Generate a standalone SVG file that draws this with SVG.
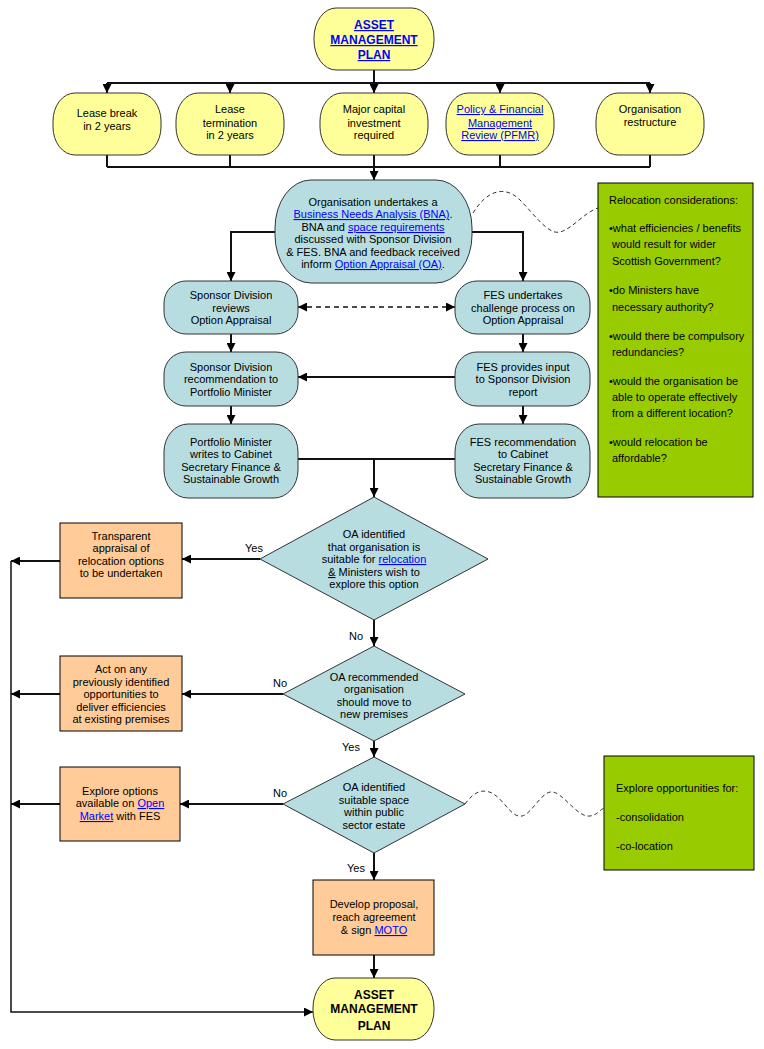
<svg xmlns="http://www.w3.org/2000/svg" width="764" height="1049" viewBox="0 0 764 1049">
<defs>
<style>
.t{font-family:"Liberation Sans",Arial,sans-serif;font-size:11px;fill:#000;text-anchor:middle}
.s{text-anchor:start}
.b{font-weight:bold;font-size:12px}
.l{fill:#0000ff;text-decoration:underline}
.u{text-decoration:underline}
.yel{fill:#ffff99;stroke:#333;stroke-width:1}
.blu{fill:#b7dde0;stroke:#333;stroke-width:1}
.org{fill:#ffcc99;stroke:#000;stroke-width:1}
.grn{fill:#99cc00;stroke:#000;stroke-width:1}
.c{fill:none;stroke:#111;stroke-width:2}
.a{marker-end:url(#ah)}
.d{fill:none;stroke:#111;stroke-width:1.5;stroke-dasharray:5 4}
.w{fill:none;stroke:#333;stroke-width:1;stroke-dasharray:4 3}
</style>
<marker id="ah" viewBox="0 0 10 10" refX="10" refY="5" markerWidth="9" markerHeight="9" markerUnits="userSpaceOnUse" orient="auto-start-reverse">
<path d="M0,0 L10,5 L0,10 z" fill="#000"/>
</marker>
</defs>
<rect width="764" height="1049" fill="#fff"/>

<g id="connectors">
<path class="c" d="M374,70 V83 M107,83 H650"/>
<path class="c a" d="M107,83 V93"/>
<path class="c a" d="M230,83 V93"/>
<path class="c a" d="M374,83 V93"/>
<path class="c a" d="M500,83 V93"/>
<path class="c a" d="M650,83 V93"/>
<path class="c" d="M107,155 V167 M230,155 V167 M374,155 V167 M500,155 V167 M650,155 V167 M107,167 H650"/>
<path class="c a" d="M374,167 V180"/>
<path class="c a" d="M276,232 H231 V281"/>
<path class="c a" d="M471,232 H523 V281"/>
<path class="d a" style="marker-start:url(#ah)" d="M298,307 H455"/>
<path class="c a" d="M231,334 V352"/>
<path class="c a" d="M523,334 V352"/>
<path class="c a" d="M455,377 H298"/>
<path class="c a" d="M231,406 V424"/>
<path class="c a" d="M523,406 V424"/>
<path class="c" d="M298,459 H455"/>
<path class="c a" d="M374,459 V497"/>
<path class="c a" d="M260,559 H182"/>
<path class="c a" d="M60,561 H11"/>
<path class="c a" d="M374,620 V646"/>
<path class="c a" d="M283,694 H182"/>
<path class="c a" d="M60,694 H11"/>
<path class="c a" d="M374,741 V757"/>
<path class="c a" d="M283,804 H180"/>
<path class="c a" d="M60,804 H11"/>
<path class="c a" d="M374,853 V880"/>
<path class="c a" d="M374,955 V978"/>
<path class="c a" style="stroke-width:1.5" d="M11,561 V1012 H313"/>
<path class="w" d="M473,213 C487,190 505,185 520,200 C535,215 548,235 560,232 C572,229 585,212 598,208"/>
<path class="w" d="M465,804 C475,790 485,788 495,795 C505,802 512,818 522,816 C532,814 542,790 553,792 C564,794 578,818 590,816 C597,815 600,810 604,808"/>
<text class="t" x="254" y="552">Yes</text>
<text class="t" x="356" y="640">No</text>
<text class="t" x="280" y="687">No</text>
<text class="t" x="351" y="751">Yes</text>
<text class="t" x="280" y="797">No</text>
<text class="t" x="356" y="872">Yes</text>
</g>

<g id="amp-top">
<rect class="yel" x="314" y="8" width="120" height="62" rx="22" ry="30"/>
<text class="t b" x="374" y="29"><tspan class="l">ASSET</tspan></text>
<text class="t b" x="374" y="44"><tspan class="l">MANAGEMENT</tspan></text>
<text class="t b" x="374" y="59"><tspan class="l">PLAN</tspan></text>
</g>

<g id="lease-break">
<rect class="yel" x="53" y="93" width="108" height="62" rx="22" ry="28"/>
<text class="t" x="107" y="117">Lease break</text>
<text class="t" x="107" y="130">in 2 years</text>
</g>
<g id="lease-termination">
<rect class="yel" x="176" y="93" width="108" height="62" rx="22" ry="28"/>
<text class="t" x="230" y="113">Lease</text>
<text class="t" x="230" y="127">termination</text>
<text class="t" x="230" y="139">in 2 years</text>
</g>
<g id="major-capital">
<rect class="yel" x="320" y="93" width="108" height="62" rx="22" ry="28"/>
<text class="t" x="374" y="113">Major capital</text>
<text class="t" x="374" y="127">investment</text>
<text class="t" x="374" y="139">required</text>
</g>
<g id="pfmr">
<rect class="yel" x="446" y="93" width="108" height="62" rx="22" ry="28"/>
<text class="t" x="500" y="113"><tspan class="l">Policy &amp; Financial</tspan></text>
<text class="t" x="500" y="127"><tspan class="l">Management</tspan></text>
<text class="t" x="500" y="139"><tspan class="l">Review (PFMR)</tspan></text>
</g>
<g id="restructure">
<rect class="yel" x="596" y="93" width="108" height="62" rx="22" ry="28"/>
<text class="t" x="650" y="113">Organisation</text>
<text class="t" x="650" y="126">restructure</text>
</g>

<g id="bna">
<rect class="blu" x="275" y="180" width="197" height="103" rx="36" ry="48"/>
<text class="t" x="373" y="206">Organisation undertakes a</text>
<text class="t" x="373" y="218"><tspan class="l">Business Needs Analysis (BNA)</tspan>.</text>
<text class="t" x="373" y="231">BNA and <tspan class="l">space requirements</tspan></text>
<text class="t" x="373" y="243">discussed with Sponsor Division</text>
<text class="t" x="373" y="256">&amp; FES. BNA and feedback received</text>
<text class="t" x="373" y="268">inform <tspan class="l">Option Appraisal (OA)</tspan>.</text>
</g>

<g id="sd-reviews">
<rect class="blu" x="164" y="281" width="134" height="53" rx="22" ry="22"/>
<text class="t" x="231" y="299">Sponsor Division</text>
<text class="t" x="231" y="312">reviews</text>
<text class="t" x="231" y="324">Option Appraisal</text>
</g>
<g id="fes-challenge">
<rect class="blu" x="455" y="281" width="135" height="53" rx="22" ry="22"/>
<text class="t" x="523" y="299">FES undertakes</text>
<text class="t" x="523" y="312">challenge process on</text>
<text class="t" x="523" y="324">Option Appraisal</text>
</g>
<g id="sd-recommendation">
<rect class="blu" x="164" y="352" width="134" height="54" rx="22" ry="22"/>
<text class="t" x="231" y="371">Sponsor Division</text>
<text class="t" x="231" y="383">recommendation to</text>
<text class="t" x="231" y="396">Portfolio Minister</text>
</g>
<g id="fes-input">
<rect class="blu" x="455" y="352" width="135" height="54" rx="22" ry="22"/>
<text class="t" x="523" y="371">FES provides input</text>
<text class="t" x="523" y="383">to Sponsor Division</text>
<text class="t" x="523" y="396">report</text>
</g>
<g id="pm-writes">
<rect class="blu" x="164" y="424" width="134" height="74" rx="24" ry="28"/>
<text class="t" x="231" y="446">Portfolio Minister</text>
<text class="t" x="231" y="458">writes to Cabinet</text>
<text class="t" x="231" y="471">Secretary Finance &amp;</text>
<text class="t" x="231" y="483">Sustainable Growth</text>
</g>
<g id="fes-recommendation">
<rect class="blu" x="455" y="424" width="135" height="74" rx="24" ry="28"/>
<text class="t" x="523" y="446">FES recommendation</text>
<text class="t" x="523" y="458">to Cabinet</text>
<text class="t" x="523" y="471">Secretary Finance &amp;</text>
<text class="t" x="523" y="483">Sustainable Growth</text>
</g>

<g id="relocation-considerations">
<rect class="grn" x="598" y="183" width="155" height="314"/>
<text class="t s" x="609" y="204">Relocation considerations:</text>
<text class="t s" x="609" y="232">•what efficiencies / benefits</text>
<text class="t s" x="612" y="248">would result for wider</text>
<text class="t s" x="612" y="265">Scottish Government?</text>
<text class="t s" x="609" y="294">•do Ministers have</text>
<text class="t s" x="612" y="311">necessary authority?</text>
<text class="t s" x="609" y="340">•would there be compulsory</text>
<text class="t s" x="612" y="356">redundancies?</text>
<text class="t s" x="609" y="385">•would the organisation be</text>
<text class="t s" x="612" y="401">able to operate effectively</text>
<text class="t s" x="612" y="417">from a different location?</text>
<text class="t s" x="609" y="446">•would relocation be</text>
<text class="t s" x="612" y="462">affordable?</text>
</g>

<g id="decision-relocation">
<polygon class="blu" points="374,497 488,559 374,620 260,559"/>
<text class="t" x="374" y="538">OA identified</text>
<text class="t" x="374" y="551">that organisation is</text>
<text class="t" x="374" y="563">suitable for <tspan class="l">relocation</tspan></text>
<text class="t" x="374" y="576"><tspan class="u">&amp;</tspan> Ministers wish to</text>
<text class="t" x="374" y="588">explore this option</text>
</g>
<g id="transparent-appraisal">
<rect class="org" x="60" y="523" width="122" height="75"/>
<text class="t" x="121" y="540">Transparent</text>
<text class="t" x="121" y="552">appraisal of</text>
<text class="t" x="121" y="565">relocation options</text>
<text class="t" x="121" y="577">to be undertaken</text>
</g>

<g id="decision-move">
<polygon class="blu" points="374,646 465,694 374,741 283,694"/>
<text class="t" x="374" y="681">OA recommended</text>
<text class="t" x="374" y="693">organisation</text>
<text class="t" x="374" y="706">should move to</text>
<text class="t" x="374" y="718">new premises</text>
</g>
<g id="act-efficiencies">
<rect class="org" x="60" y="656" width="122" height="75"/>
<text class="t" x="121" y="673">Act on any</text>
<text class="t" x="121" y="686">previously identified</text>
<text class="t" x="121" y="698">opportunities to</text>
<text class="t" x="121" y="711">deliver efficiencies</text>
<text class="t" x="121" y="723">at existing premises</text>
</g>

<g id="decision-space">
<polygon class="blu" points="374,757 465,804 374,853 283,804"/>
<text class="t" x="374" y="791">OA identified</text>
<text class="t" x="374" y="804">suitable space</text>
<text class="t" x="374" y="816">within public</text>
<text class="t" x="374" y="829">sector estate</text>
</g>
<g id="explore-open-market">
<rect class="org" x="60" y="767" width="120" height="74"/>
<text class="t" x="120" y="795">Explore options</text>
<text class="t" x="120" y="807">available on <tspan class="l">Open</tspan></text>
<text class="t" x="120" y="820"><tspan class="l">Market</tspan> with FES</text>
</g>
<g id="explore-opportunities">
<rect class="grn" x="604" y="756" width="150" height="114"/>
<text class="t s" x="616" y="792">Explore opportunities for:</text>
<text class="t s" x="616" y="821">-consolidation</text>
<text class="t s" x="616" y="850">-co-location</text>
</g>

<g id="develop-proposal">
<rect class="org" x="313" y="880" width="121" height="75"/>
<text class="t" x="374" y="908">Develop proposal,</text>
<text class="t" x="374" y="921">reach agreement</text>
<text class="t" x="374" y="934">&amp; sign <tspan class="l">MOTO</tspan></text>
</g>

<g id="amp-bottom">
<rect class="yel" x="313" y="978" width="121" height="62" rx="22" ry="30"/>
<text class="t b" x="374" y="999">ASSET</text>
<text class="t b" x="374" y="1013">MANAGEMENT</text>
<text class="t b" x="374" y="1030">PLAN</text>
</g>
</svg>
